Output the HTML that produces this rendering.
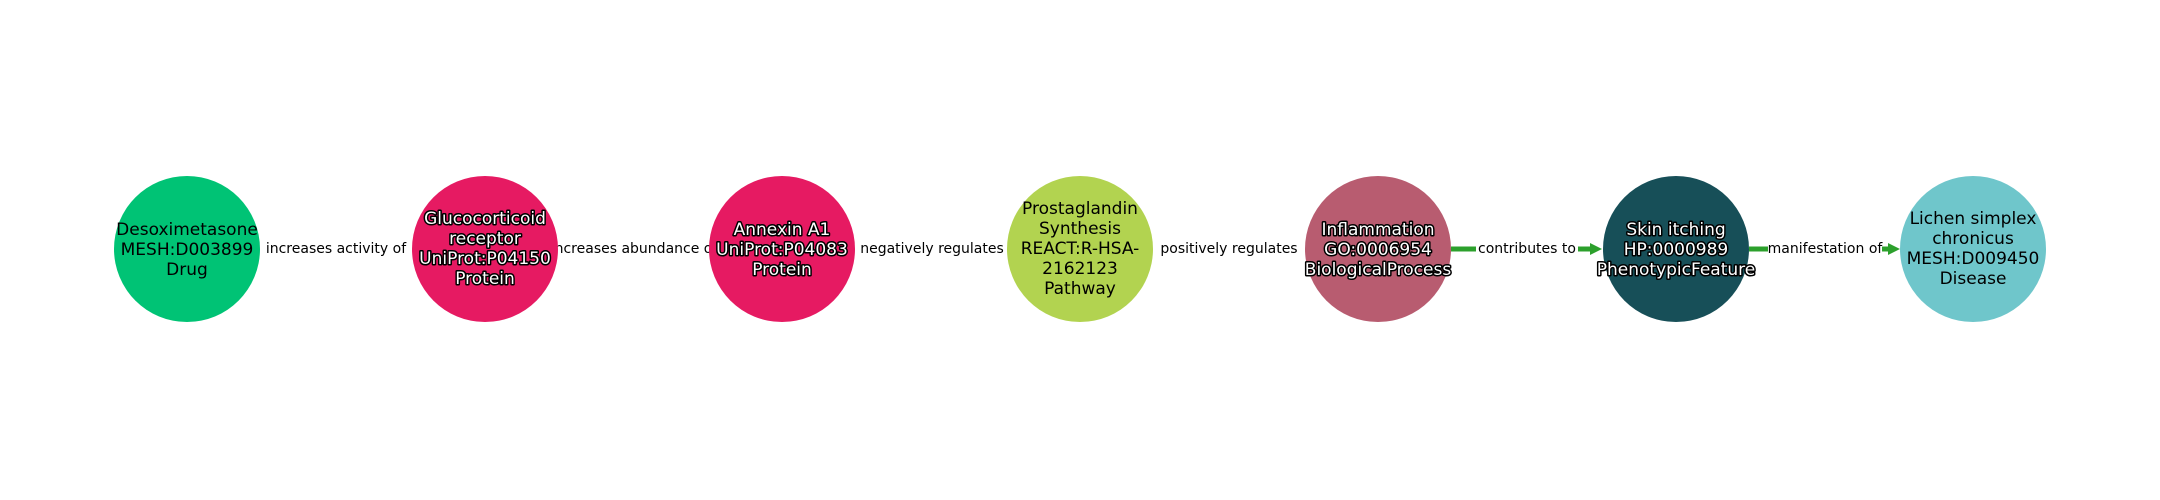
<!DOCTYPE html>
<html><head><meta charset="utf-8"><style>
html,body{margin:0;padding:0;background:#fff;}
svg{display:block;}
text{font-family:"DejaVu Sans","Liberation Sans",sans-serif;}
.n{font-size:17px;text-anchor:middle;}
.h{fill:#fff;stroke:#000;stroke-width:3px;paint-order:stroke;stroke-linejoin:round;}
.l{font-size:14px;text-anchor:middle;dominant-baseline:central;}
</style></head><body>
<svg width="2160" height="500" viewBox="0 0 2160 500">
<line x1="1451" y1="249" x2="1596" y2="249" stroke="#2ca02c" stroke-width="5"/>
<polygon points="1590,243 1602,249 1590,255" fill="#2ca02c"/>
<line x1="1749" y1="249" x2="1894" y2="249" stroke="#2ca02c" stroke-width="5"/>
<polygon points="1888,243 1900,249 1888,255" fill="#2ca02c"/>
<rect x="262" y="239" width="148" height="20" fill="#fff"/>
<text class="l" x="336" y="249">increases activity of</text>
<rect x="552" y="239" width="164" height="20" fill="#fff"/>
<text class="l" x="634" y="249">increases abundance of</text>
<rect x="862" y="239" width="140" height="20" fill="#fff"/>
<text class="l" x="932" y="249">negatively regulates</text>
<rect x="1160" y="239" width="138" height="20" fill="#fff"/>
<text class="l" x="1229" y="249">positively regulates</text>
<rect x="1476" y="239" width="102" height="20" fill="#fff"/>
<text class="l" x="1527" y="249">contributes to</text>
<rect x="1768" y="239" width="114" height="20" fill="#fff"/>
<text class="l" x="1825" y="249">manifestation of</text>
<circle cx="187" cy="249" r="73" fill="#00c375"/>
<circle cx="485" cy="249" r="73" fill="#e61a62"/>
<circle cx="782" cy="249" r="73" fill="#e61a62"/>
<circle cx="1080" cy="249" r="73" fill="#b2d350"/>
<circle cx="1378" cy="249" r="73" fill="#b85c70"/>
<circle cx="1676" cy="249" r="73" fill="#174f58"/>
<circle cx="1973" cy="249" r="73" fill="#6fc6cb"/>
<text class="n" x="187"><tspan x="187" y="235">Desoximetasone</tspan><tspan x="187" y="255">MESH:D003899</tspan><tspan x="187" y="275">Drug</tspan></text>
<text class="n h" x="485"><tspan x="485" y="224">Glucocorticoid</tspan><tspan x="485" y="244">receptor</tspan><tspan x="485" y="264">UniProt:P04150</tspan><tspan x="485" y="284">Protein</tspan></text>
<text class="n h" x="782"><tspan x="782" y="235">Annexin A1</tspan><tspan x="782" y="255">UniProt:P04083</tspan><tspan x="782" y="275">Protein</tspan></text>
<text class="n" x="1080"><tspan x="1080" y="214">Prostaglandin</tspan><tspan x="1080" y="234">Synthesis</tspan><tspan x="1080" y="254">REACT:R-HSA-</tspan><tspan x="1080" y="274">2162123</tspan><tspan x="1080" y="294">Pathway</tspan></text>
<text class="n h" x="1378"><tspan x="1378" y="235">Inflammation</tspan><tspan x="1378" y="255">GO:0006954</tspan><tspan x="1378" y="275">BiologicalProcess</tspan></text>
<text class="n h" x="1676"><tspan x="1676" y="235">Skin itching</tspan><tspan x="1676" y="255">HP:0000989</tspan><tspan x="1676" y="275">PhenotypicFeature</tspan></text>
<text class="n" x="1973"><tspan x="1973" y="224">Lichen simplex</tspan><tspan x="1973" y="244">chronicus</tspan><tspan x="1973" y="264">MESH:D009450</tspan><tspan x="1973" y="284">Disease</tspan></text>
</svg>
</body></html>
